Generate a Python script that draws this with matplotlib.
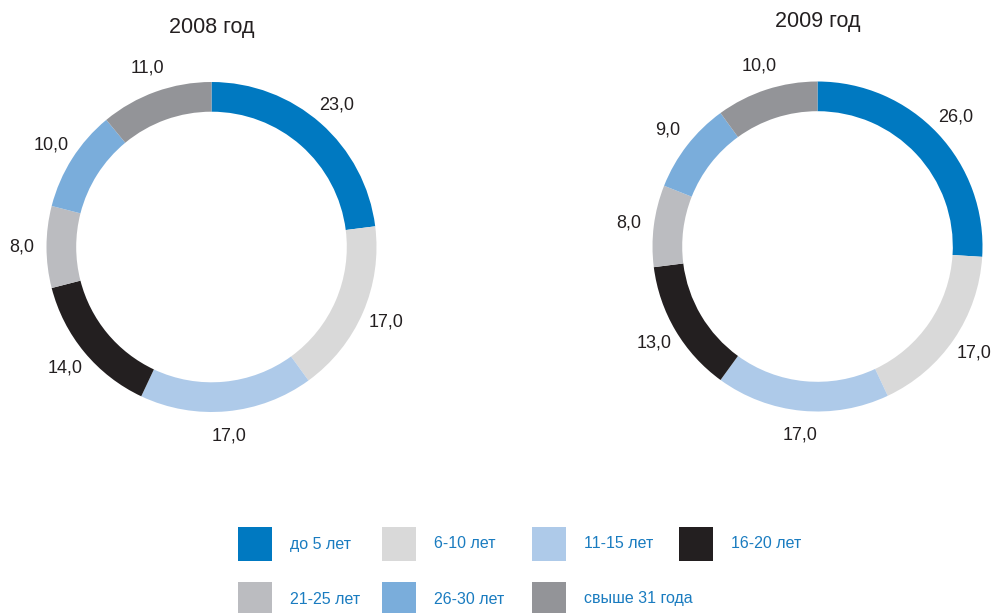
import matplotlib
matplotlib.use('Agg')
import matplotlib.pyplot as plt
from matplotlib.patches import Rectangle

plt.rcParams['font.family'] = ['Liberation Sans', 'DejaVu Sans']

categories = ['до 5 лет', '6-10 лет', '11-15 лет', '16-20 лет', '21-25 лет', '26-30 лет', 'свыше 31 года']
colors = ['#0079c1', '#d9d9d9', '#aecae9', '#231f20', '#bbbcc0', '#7aaddb', '#939498']
values_2008 = [23.0, 17.0, 17.0, 14.0, 8.0, 10.0, 11.0]
values_2009 = [26.0, 17.0, 17.0, 13.0, 8.0, 9.0, 10.0]
titles = ['2008 год', '2009 год']

W, H = 1002, 613
fig = plt.figure(figsize=(W / 100, H / 100), dpi=100)

def donut(cx, cy, r, vals, title, ty):
    ax = fig.add_axes([(cx - r) / W, 1 - (cy + r) / H, 2 * r / W, 2 * r / H])
    labels = [('%.1f' % v).replace('.', ',') for v in vals]
    wedges, texts = ax.pie(vals, colors=colors, startangle=90, counterclock=False,
                           labels=labels, labeldistance=1.15,
                           wedgeprops=dict(width=0.18, linewidth=0),
                           textprops=dict(fontsize=13, color='#231f20'))
    for t in texts:
        t.set_ha('center')
        t.set_va('center')
    ax.set_xlim(-1, 1)
    ax.set_ylim(-1, 1)
    ax.set_aspect('equal')
    ax.axis('off')
    fig.text(cx / W, 1 - ty / H, title, ha='center', va='center', fontsize=15.5, color='#231f20')

donut(211.5, 247, 165, values_2008, titles[0], 28)
donut(817.5, 246.5, 165, values_2009, titles[1], 22)

# legend
col_x = [238, 382, 532, 679]
row_y = [544, 599]
for i, (cat, c) in enumerate(zip(categories, colors)):
    x = col_x[i % 4]
    y = row_y[i // 4]
    fig.patches.append(Rectangle((x / W, 1 - (y + 17) / H), 34 / W, 34 / H,
                                 transform=fig.transFigure, facecolor=c, edgecolor='none'))
    fig.text((x + 52) / W, 1 - y / H, cat, ha='left', va='center', fontsize=11.5, color='#1a7cc0')

fig.savefig('out.png', dpi=100)
